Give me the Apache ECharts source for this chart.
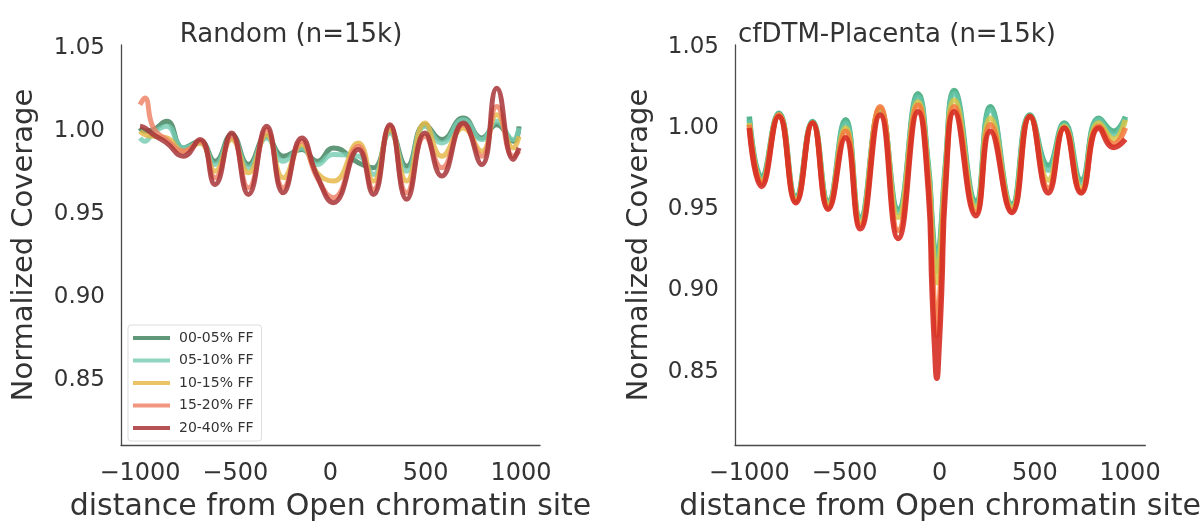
<!DOCTYPE html>
<html><head><meta charset="utf-8">
<script src="https://cdn.jsdelivr.net/npm/echarts@6/dist/echarts.min.js"></script>
<style>html,body{margin:0;padding:0;background:#fff}#c{width:1204px;height:527px}</style>
</head><body><div id="c"></div>
<script>
// ---------- data ----------
const seriesNames = ['00-05% FF', '05-10% FF', '10-15% FF', '15-20% FF', '20-40% FF'];
const xTicks = [-1000, -500, 0, 500, 1000];
const yTicks = [0.85, 0.90, 0.95, 1.00, 1.05];

// Left panel: Random (n=15k)
const xRandom = [-1000, -975, -930, -860, -773, -685, -606, -519, -431, -335, -248, -151, -70, 15, 146, 225, 312, 400, 496, 584, 697, 794, 873, 960, 990];
const random00_05 = [1.002, 1.000, 1.001, 1.006, 0.990, 0.994, 0.982, 0.998, 0.980, 0.997, 0.985, 0.989, 0.982, 0.990, 0.981, 0.978, 1.000, 0.979, 1.004, 0.995, 1.008, 0.996, 1.004, 0.994, 1.003];
const random05_10 = [0.996, 0.994, 0.999, 1.003, 0.990, 0.993, 0.980, 0.996, 0.978, 0.996, 0.982, 0.990, 0.980, 0.986, 0.985, 0.974, 0.999, 0.976, 1.003, 0.993, 1.007, 0.995, 1.006, 0.995, 1.002];
const random10_15 = [1.000, 0.998, 0.997, 0.996, 0.988, 0.993, 0.976, 0.995, 0.975, 0.998, 0.972, 0.992, 0.975, 0.970, 0.993, 0.970, 1.001, 0.970, 1.005, 0.985, 1.002, 0.988, 1.010, 0.990, 0.997];
const random15_20 = [1.016, 1.020, 1.002, 0.995, 0.988, 0.994, 0.972, 0.997, 0.966, 1.001, 0.966, 0.994, 0.972, 0.960, 0.991, 0.965, 1.003, 0.963, 0.997, 0.978, 1.004, 0.985, 1.015, 0.985, 0.988];
const random20_40 = [1.003, 1.002, 0.998, 0.993, 0.985, 0.995, 0.968, 0.999, 0.962, 1.003, 0.963, 0.996, 0.973, 0.957, 0.989, 0.962, 1.004, 0.959, 0.999, 0.973, 1.005, 0.980, 1.026, 0.983, 0.990];

// Right panel: cfDTM-Placenta (n=15k)
const xPlacenta = [-1000, -936, -845, -755, -668, -585, -495, -417, -313, -218, -114, -60, -40, -27, -15, -3, 10, 30, 76, 190, 266, 379, 474, 570, 654, 743, 836, 914, 975];
const placenta00_05 = [1.007, 0.970, 1.009, 0.958, 1.004, 0.955, 1.005, 0.945, 1.011, 0.950, 1.021, 0.977, 0.943, 0.924, 0.915, 0.924, 0.943, 0.977, 1.023, 0.955, 1.013, 0.953, 1.008, 0.977, 1.003, 0.968, 1.006, 0.998, 1.007];
const placenta05_10 = [1.005, 0.968, 1.008, 0.957, 1.003, 0.954, 1.003, 0.944, 1.011, 0.948, 1.019, 0.975, 0.940, 0.921, 0.912, 0.921, 0.940, 0.975, 1.021, 0.953, 1.011, 0.952, 1.007, 0.974, 1.002, 0.966, 1.005, 0.996, 1.006];
const placenta10_15 = [1.003, 0.967, 1.008, 0.956, 1.003, 0.953, 1.000, 0.942, 1.012, 0.945, 1.016, 0.972, 0.935, 0.915, 0.905, 0.915, 0.935, 0.972, 1.017, 0.951, 1.006, 0.951, 1.007, 0.968, 1.001, 0.963, 1.003, 0.993, 1.005];
const placenta15_20 = [1.002, 0.966, 1.008, 0.955, 1.003, 0.951, 0.998, 0.940, 1.013, 0.937, 1.014, 0.968, 0.918, 0.888, 0.872, 0.888, 0.918, 0.968, 1.013, 0.948, 1.002, 0.949, 1.007, 0.963, 1.000, 0.961, 1.001, 0.990, 1.000];
const placenta20_40 = [1.000, 0.964, 1.007, 0.954, 1.003, 0.950, 0.994, 0.938, 1.008, 0.932, 1.010, 0.962, 0.900, 0.866, 0.846, 0.866, 0.900, 0.962, 1.010, 0.946, 0.998, 0.948, 1.007, 0.960, 1.000, 0.960, 1.000, 0.988, 0.993];

const randomValues = [random00_05, random05_10, random10_15, random15_20, random20_40];
const placentaValues = [placenta00_05, placenta05_10, placenta10_15, placenta15_20, placenta20_40];

// ---------- styles ----------
const FONT = 'DejaVu Sans';
const TXT = '#333333';
const colorsRandom = ['rgba(62,128,92,0.82)', 'rgba(118,204,178,0.82)', 'rgba(228,182,68,0.82)', 'rgba(238,128,100,0.82)', 'rgba(168,52,55,0.85)'];
const colorsPlacenta = ['rgba(58,168,122,0.85)', 'rgba(100,198,168,0.85)', 'rgba(214,198,70,0.85)', 'rgba(245,120,60,0.85)', 'rgba(214,46,36,0.9)'];

function fmtX(v) { return v < 0 ? '\u2212' + Math.abs(v) : String(v); }
function fmtY(v) { return v.toFixed(2); }

function xAxisFor(gi, min, max) {
  return {
    type: 'value', gridIndex: gi, min: min, max: max,
    name: 'distance from Open chromatin site', nameLocation: 'middle', nameGap: 47,
    nameTextStyle: { fontFamily: FONT, fontSize: 30, color: TXT },
    axisLine: { show: true, onZero: false, lineStyle: { color: '#4a4a4a', width: 1.3 } },
    axisTick: { show: false },
    splitLine: { show: false },
    axisLabel: { customValues: xTicks, formatter: fmtX, fontFamily: FONT, fontSize: 24, color: TXT, margin: 17 }
  };
}
function yAxisFor(gi, min, max, gap) {
  return {
    type: 'value', gridIndex: gi, min: min, max: max,
    name: 'Normalized Coverage', nameLocation: 'middle', nameGap: gap,
    nameTextStyle: { fontFamily: FONT, fontSize: 29, color: TXT },
    axisLine: { show: true, onZero: false, lineStyle: { color: '#4a4a4a', width: 1.3 } },
    axisTick: { show: false },
    splitLine: { show: false },
    axisLabel: { customValues: yTicks, formatter: fmtY, fontFamily: FONT, fontSize: 23, color: TXT, margin: 16 }
  };
}

const series = [];
seriesNames.forEach((n, i) => {
  series.push({
    name: n, type: 'line', xAxisIndex: 0, yAxisIndex: 0, smooth: 0.5, showSymbol: false,
    color: colorsRandom[i],
    lineStyle: { width: 5, color: colorsRandom[i] },
    data: xRandom.map((x, k) => [x, randomValues[i][k]])
  });
});
seriesNames.forEach((n, i) => {
  series.push({
    name: n, type: 'line', xAxisIndex: 1, yAxisIndex: 1, smooth: 0.5, showSymbol: false,
    color: colorsPlacenta[i],
    lineStyle: { width: 5.5, color: colorsPlacenta[i] },
    data: xPlacenta.map((x, k) => [x, placentaValues[i][k]])
  });
});

const chart = echarts.init(document.getElementById('c'), null, { renderer: 'canvas' });
chart.setOption({
  backgroundColor: '#ffffff',
  animation: false,
  title: [
    { text: 'Random (n=15k)', left: 286, top: 17, textAlign: 'center', textStyle: { fontFamily: FONT, fontSize: 26, fontWeight: 'normal', color: TXT } },
    { text: 'cfDTM-Placenta (n=15k)', left: 892, top: 17, textAlign: 'center', textStyle: { fontFamily: FONT, fontSize: 26, fontWeight: 'normal', color: TXT } }
  ],
  grid: [
    { left: 121, top: 45, width: 419, height: 408 },
    { left: 735, top: 45, width: 415, height: 408 }
  ],
  xAxis: [xAxisFor(0, -1100, 1100), xAxisFor(1, -1075, 1080)],
  yAxis: [yAxisFor(0, 0.811, 1.052, 82), yAxisFor(1, 0.805, 1.051, 81)],
  legend: {
    data: seriesNames, orient: 'vertical', left: 128, top: 325,
    icon: 'rect', itemWidth: 37, itemHeight: 4, itemGap: 8.5,
    padding: [6, 8, 6, 5], borderColor: '#dddddd', borderWidth: 1, borderRadius: 3, backgroundColor: '#ffffff',
    textStyle: { fontFamily: FONT, fontSize: 14, color: TXT, lineHeight: 14, padding: [0, 0, 0, 4] }
  },
  series: series
});
</script>
</body></html>
